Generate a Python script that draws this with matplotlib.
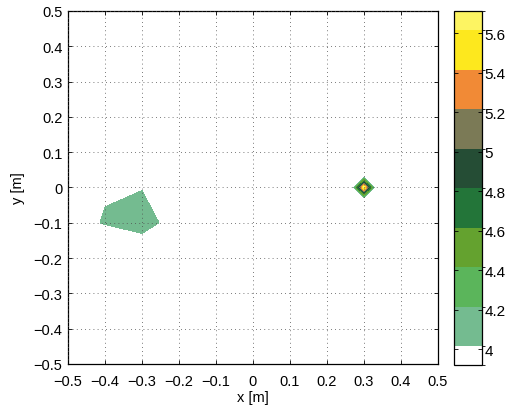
import numpy as np
import matplotlib.pyplot as plt
from matplotlib.colors import ListedColormap, BoundaryNorm
from matplotlib.ticker import FuncFormatter

plt.rcParams['font.family'] = ['Liberation Sans', 'DejaVu Sans']
plt.rcParams['font.size'] = 10.5

# measurement grid [m]
grid_x = [-0.5, -0.4, -0.3, -0.2, -0.1, 0.0, 0.1, 0.2, 0.3, 0.4, 0.5]
grid_y = [-0.5, -0.4, -0.3, -0.2, -0.1, 0.0, 0.1, 0.2, 0.3, 0.4, 0.5]
background = 3.92

# readings that differ from the background level
pts_x = [-0.4, -0.3, -0.5, -0.4, -0.4, -0.3, -0.2, -0.3,
         0.3, 0.2, 0.4, 0.3, 0.3]
pts_y = [-0.1, -0.1, -0.1, 0.0, -0.2, 0.0, -0.1, -0.2,
         0.0, 0.0, 0.0, 0.1, -0.1]
pts_v = [4.15, 4.20, 3.15, 3.85, 1.45, 3.997, 3.798, 3.583,
         5.713, -0.3, -0.3, -0.3, -0.3]

levels = [3.92, 4.015, 4.215, 4.415, 4.615, 4.815, 5.015, 5.215, 5.415, 5.615, 5.713]
cbar_ticks = [4.0, 4.2, 4.4, 4.6, 4.8, 5.0, 5.2, 5.4, 5.6]
colors = ['#ffffff', '#74bb90', '#5bb55b', '#64a22f', '#237539',
          '#254d35', '#7b7a56', '#f18a36', '#fde81e', '#fdf462']

Z = np.full((len(grid_y), len(grid_x)), background)
for px, py, pv in zip(pts_x, pts_y, pts_v):
    i = int(np.argmin(np.abs(np.array(grid_y) - py)))
    j = int(np.argmin(np.abs(np.array(grid_x) - px)))
    Z[i, j] = pv


def fmt(v, pos=None):
    s = '%g' % round(v, 6)
    if s == '-0':
        s = '0'
    return s.replace('-', '\u2212')


cmap = ListedColormap(colors)
norm = BoundaryNorm(levels, cmap.N)

fig = plt.figure(figsize=(5.10, 4.14), dpi=100)
ax = fig.add_axes([0.1333, 0.1184, 0.7255, 0.8527])
cs = ax.contourf(grid_x, grid_y, Z, levels=levels, cmap=cmap, norm=norm)

ax.set_xlim(-0.5, 0.5)
ax.set_ylim(-0.5, 0.5)
ax.set_xticks(grid_x)
ax.set_yticks(grid_y)
ax.xaxis.set_major_formatter(FuncFormatter(fmt))
ax.yaxis.set_major_formatter(FuncFormatter(fmt))
ax.tick_params(direction='in', length=3, width=0.6, top=True, right=True)
ax.tick_params(axis='x', pad=7)
ax.tick_params(axis='y', pad=4)
ax.grid(True, linestyle=(0, (1, 4)), color='0.3', linewidth=0.6)
ax.set_axisbelow(False)
for s in ax.spines.values():
    s.set_linewidth(0.9)
ax.set_xlabel('x [m]', labelpad=2)
ax.set_ylabel('y [m]', labelpad=6)

cax = fig.add_axes([0.8902, 0.1159, 0.0549, 0.855])
cb = fig.colorbar(cs, cax=cax, spacing='proportional', ticks=cbar_ticks)
cb.ax.yaxis.set_major_formatter(FuncFormatter(fmt))
cb.ax.tick_params(direction='in', length=3, width=0.6, left=True, right=True,
                  pad=2, labelsize=11)
cb.outline.set_linewidth(0.9)

fig.savefig('out.png', dpi=100)
